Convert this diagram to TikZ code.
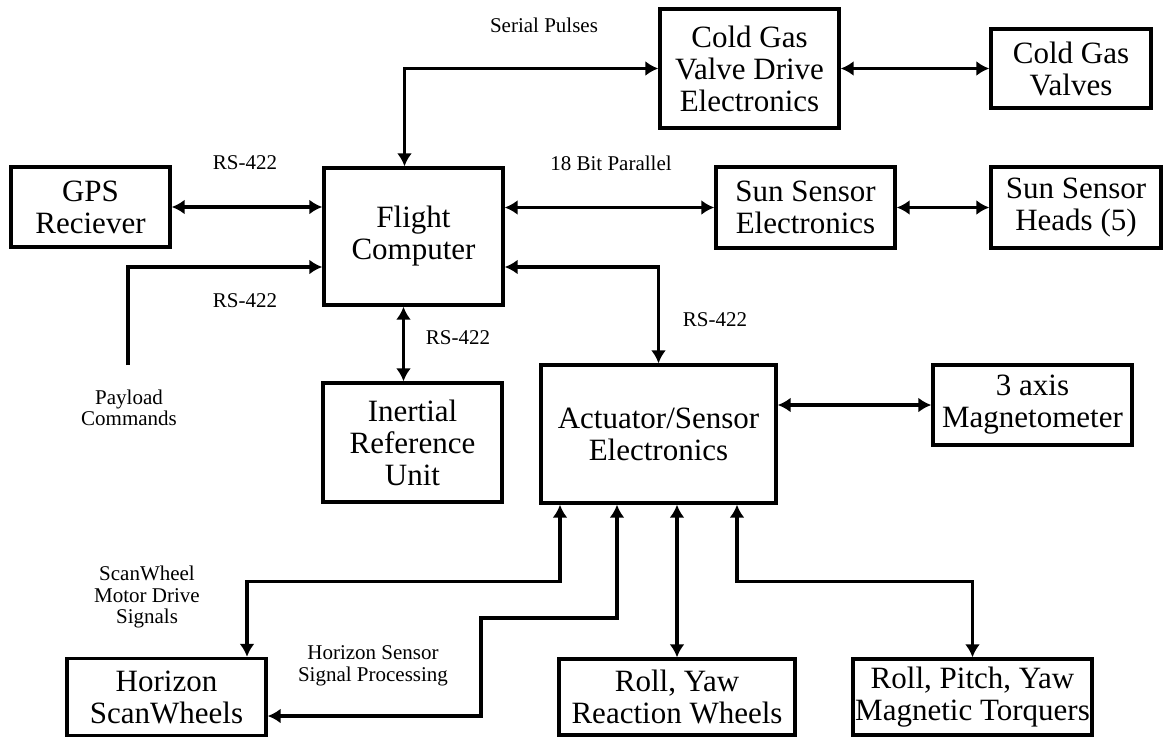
\documentclass[tikz,border=0pt]{standalone}
\usepackage{fontspec}
\setmainfont{Liberation Serif}
\usetikzlibrary{arrows.meta}

\begin{document}
\begin{tikzpicture}[x=1pt,y=-1pt,line width=3.4pt,
    >={Latex[length=13pt,width=15pt]},
    blk/.style={draw,line width=3.4pt,inner sep=0pt,align=center,
      font=\fontsize{31}{32}\selectfont},
    lbl/.style={inner sep=0pt,align=center,
      font=\fontsize{21}{21.5}\selectfont}]

  \useasboundingbox (0,0) rectangle (1166,739);

  % boxes
  \node[blk,minimum width=159pt,minimum height=80pt] (gps) at (90.5,207) {GPS\\Reciever};
  \node[blk,minimum width=179pt,minimum height=137pt] (fc) at (413.5,236.5) {Flight\\Computer};
  \node[blk,minimum width=179pt,minimum height=119pt] (cgvde) at (749.5,68.5) {Cold Gas\\Valve Drive\\Electronics};
  \node[blk,minimum width=160pt,minimum height=79pt] (cgv) at (1071,68.5) {Cold Gas\\Valves};
  \node[blk,minimum width=179pt,minimum height=81pt] (sse) at (805.5,207.5) {Sun Sensor\\Electronics};
  \node[blk,minimum width=170pt,minimum height=81pt] (ssh) at (1076,207.5) {Sun Sensor\\Heads (5)};
  \node[blk,minimum width=179pt,minimum height=119pt] (iru) at (412.5,442.5) {Inertial\\Reference\\Unit};
  \node[blk,minimum width=235pt,minimum height=138pt] (act) at (658.5,434) {Actuator/Sensor\\Electronics};
  \node[blk,minimum width=199pt,minimum height=80pt] (mag) at (1032.5,405) {3 axis\\Magnetometer};
  \node[blk,minimum width=199pt,minimum height=77pt] (hsw) at (166.5,697) {Horizon\\ScanWheels};
  \node[blk,minimum width=236pt,minimum height=76pt] (rw) at (677,697) {Roll, Yaw\\Reaction Wheels};
  \node[blk,minimum width=239pt,minimum height=76pt] (mt) at (972.5,697) {Roll, Pitch, Yaw\\Magnetic Torquers};

  % labels
  \node[lbl] (serial) at (544,25) {Serial Pulses};
  \node[lbl] (par) at (611,163) {18 Bit Parallel};
  \foreach \p [count=\i] in {(245,163),(245,301),(458,338),(715,320)}
    \node[lbl] (rs\i) at \p {RS-422};
  \node[lbl] (paycmd) at (129,408) {Payload\\Commands};
  \node[lbl] (motor) at (147,597) {ScanWheel\\Motor Drive\\Signals};
  \node[lbl] (hsp) at (373,666) {Horizon Sensor\\Signal Processing};

  \coordinate (pay) at (128,365);
  \coordinate (hbend) at (481,618);

  % links
  \draw[<->] (gps.east) -- (gps.east -| fc.west);
  \draw[->] (pay) |- ([yshift=-30.5pt]fc.west);
  \draw[<->] ([xshift=-9pt]fc.north) |- (cgvde.west);
  \draw[<->] (cgvde.east) -- (cgvde.east -| cgv.west);
  \draw[<->] (sse.west -| fc.east) -- (sse.west);
  \draw[<->] (sse.east) -- (ssh.west);
  \draw[<->] ([yshift=-30.5pt]fc.east) -| (act.north);
  \draw[<->] ([xshift=-10pt]fc.south) -- ([xshift=-10pt]fc.south |- iru.north);
  \draw[<->] (mag.west -| act.east) -- (mag.west);
  \draw[<->] ([xshift=-98.5pt]act.south) -- ++(0,77) -| ([xshift=80.5pt]hsw.north);
  \draw[<->] ([xshift=-41.5pt]act.south) |- (hbend) |- ([yshift=-19pt]hsw.east);
  \draw[<->] (rw.north |- act.south) -- (rw.north);
  \draw[<->] ([xshift=78.5pt]act.south) -- ++(0,77) -| (mt.north);
\end{tikzpicture}
\end{document}
